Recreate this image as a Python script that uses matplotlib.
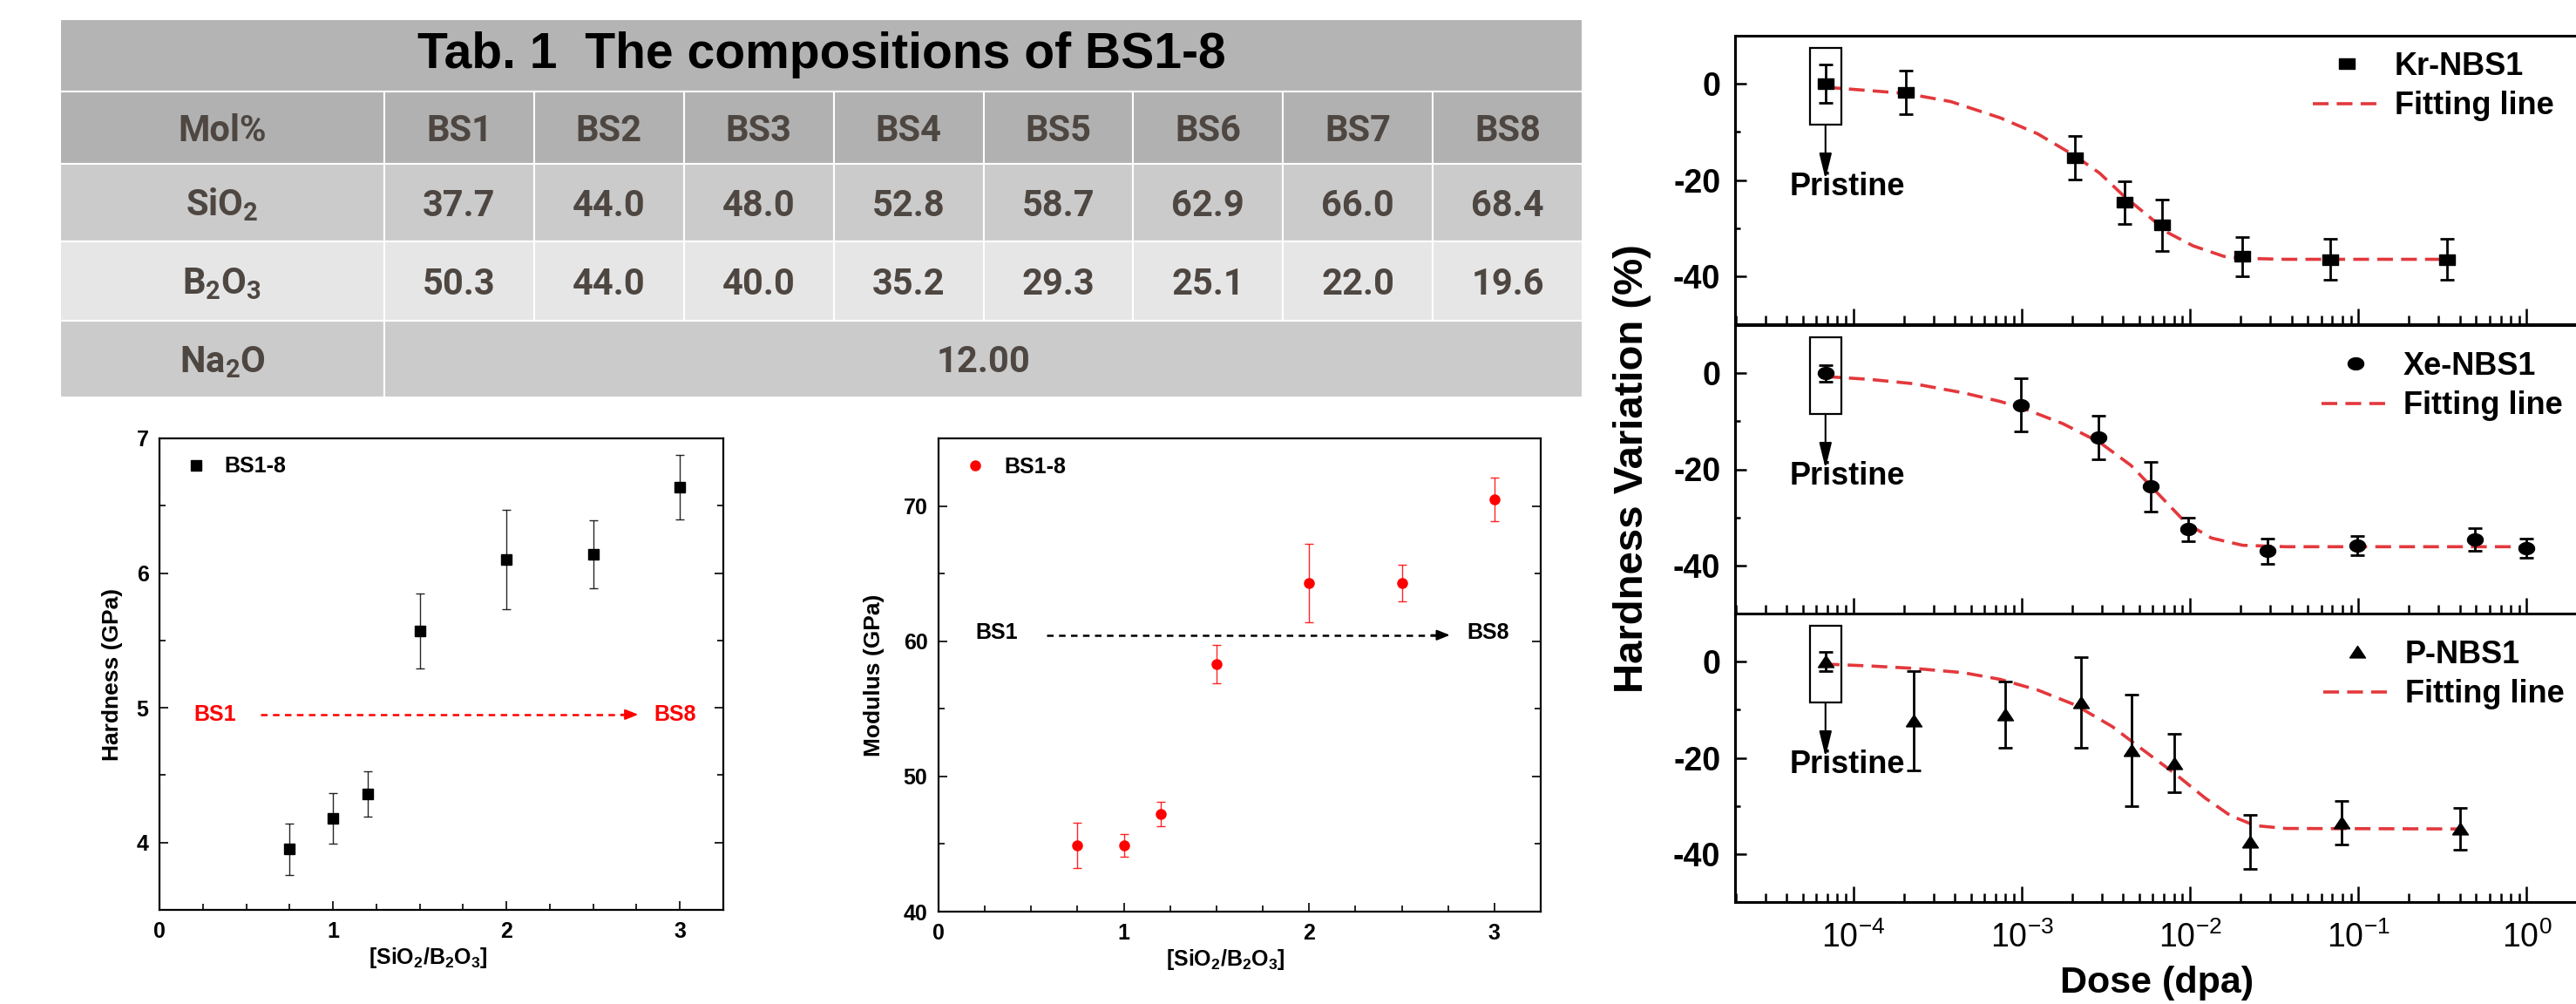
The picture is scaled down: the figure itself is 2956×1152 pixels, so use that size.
import numpy as np
import matplotlib
matplotlib.use('Agg')
import matplotlib.pyplot as plt
from matplotlib.patches import Rectangle
from matplotlib.ticker import MultipleLocator, LogLocator, NullFormatter

plt.rcParams['font.family'] = ['Liberation Sans', 'DejaVu Sans']
plt.rcParams['mathtext.default'] = 'regular'
plt.rcParams['axes.unicode_minus'] = False

# ---- table: compositions of BS1-8 (mol%)
samples = ['BS1', 'BS2', 'BS3', 'BS4', 'BS5', 'BS6', 'BS7', 'BS8']
sio2 = [37.7, 44.0, 48.0, 52.8, 58.7, 62.9, 66.0, 68.4]
b2o3 = [50.3, 44.0, 40.0, 35.2, 29.3, 25.1, 22.0, 19.6]
na2o = 12.00

# ---- hardness / modulus vs SiO2/B2O3
ratio = [0.75, 1.0, 1.2, 1.5, 2.0, 2.5, 3.0]
hardness = [3.95, 4.18, 4.36, 5.57, 6.10, 6.14, 6.64]
hardness_err = [0.19, 0.19, 0.17, 0.28, 0.37, 0.25, 0.24]
modulus = [44.9, 44.9, 47.2, 58.3, 64.3, 64.3, 70.5]
modulus_err = [1.7, 0.85, 0.9, 1.4, 2.9, 1.35, 1.6]

# ---- hardness variation vs dose
kr_dose = [6.8e-5, 2.04e-4, 2.07e-3, 4.08e-3, 6.8e-3, 2.05e-2, 6.8e-2, 0.337]
kr_var = [0.0, -1.8, -15.4, -24.7, -29.4, -35.9, -36.5, -36.5]
kr_err = [4.0, 4.5, 4.5, 4.5, 5.4, 4.1, 4.2, 4.3]
kr_fit_dose = [6.76e-5, 2.04e-4, 3.78e-4, 7.46e-4, 1.24e-3, 2.07e-3, 2.90e-3, 4.08e-3,
               5.73e-3, 7.40e-3, 1.04e-2, 1.59e-2, 2.05e-2, 3.71e-2, 0.337]
kr_fit = [-0.7, -2.0, -3.7, -7.1, -10.4, -15.0, -18.6, -23.5, -27.7, -31.0, -33.7,
          -35.9, -36.3, -36.5, -36.5]

xe_dose = [6.8e-5, 9.8e-4, 2.86e-3, 5.8e-3, 9.7e-3, 2.88e-2, 9.86e-2, 0.494, 0.99]
xe_var = [0.0, -6.6, -13.4, -23.6, -32.5, -37.0, -35.8, -34.6, -36.4]
xe_err = [1.7, 5.5, 4.5, 5.2, 2.4, 2.6, 2.0, 2.4, 2.0]
xe_fit_dose = [6.76e-5, 1.25e-4, 2.28e-4, 4.49e-4, 7.46e-4, 1.05e-3, 1.75e-3, 2.90e-3,
               4.45e-3, 6.79e-3, 9.53e-3, 1.34e-2, 2.05e-2, 3.71e-2, 0.99]
xe_fit = [-0.7, -1.3, -2.2, -4.1, -5.9, -7.5, -10.5, -14.4, -19.2, -25.9, -31.3,
          -34.3, -35.8, -36.1, -36.1]

p_dose = [6.8e-5, 2.27e-4, 8.0e-4, 2.25e-3, 4.5e-3, 8.05e-3, 2.28e-2, 7.98e-2, 0.40]
p_var = [0.0, -12.3, -11.1, -8.5, -18.4, -21.1, -37.5, -33.5, -34.8]
p_err = [2.0, 10.4, 6.9, 9.4, 11.6, 6.1, 5.7, 4.5, 4.4]
p_fit_dose = [6.64e-5, 1.25e-4, 2.28e-4, 4.49e-4, 7.46e-4, 1.24e-3, 2.07e-3, 3.44e-3,
              5.26e-3, 8.05e-3, 1.23e-2, 1.73e-2, 2.43e-2, 3.71e-2, 0.40]
p_fit = [-0.5, -0.9, -1.4, -2.3, -3.7, -5.9, -9.0, -13.5, -18.4, -23.2, -28.4,
         -32.0, -34.1, -34.7, -34.8]

W, H = 2956, 1152
fig = plt.figure(figsize=(W / 100, H / 100), dpi=100)


def box(x0, y0, x1, y1):
    # pixel box (top-left origin) -> figure fraction rect
    return [x0 / W, 1 - y1 / H, (x1 - x0) / W, (y1 - y0) / H]


# ================= table =================
tab = fig.add_axes([0, 0, 1, 1], zorder=0)
tab.set_xlim(0, W)
tab.set_ylim(H, 0)
tab.axis('off')

tx0, tx_first, tx1 = 69, 441, 1816
cw = (tx1 - tx_first) / len(samples)
rows = [22, 105, 188, 277, 368, 456]
row_colors = ['#b4b4b4', '#b1b1b1', '#cbcbcb', '#e6e6e6', '#cbcbcb']
tcol = '#4e4641'
tfont = dict(family=['Roboto', 'DejaVu Sans'], fontweight='bold', fontsize=30,
             color=tcol, ha='center', va='baseline')


def cell(xa, xb, r, txt=None):
    ya, yb = rows[r], rows[r + 1]
    tab.add_patch(Rectangle((xa, ya), xb - xa, yb - ya, facecolor=row_colors[r],
                            edgecolor='white', lw=1.5))
    if txt is not None:
        tab.text((xa + xb) / 2, (ya + yb) / 2 + 15, txt, **tfont)


tab.add_patch(Rectangle((tx0, rows[0]), tx1 - tx0, rows[1] - rows[0],
                        facecolor=row_colors[0], edgecolor='white', lw=1.5))
tab.text((tx0 + tx1) / 2, (rows[0] + rows[1]) / 2, 'Tab. 1  The compositions of BS1-8',
         ha='center', va='center', fontsize=41, fontweight='bold', color='black')

body = [('Mol%', samples),
        ('SiO$_2$', ['%.1f' % v for v in sio2]),
        ('B$_2$O$_3$', ['%.1f' % v for v in b2o3])]
for r, (lab, vals) in enumerate(body, start=1):
    cell(tx0, tx_first, r, lab)
    for j, v in enumerate(vals):
        cell(tx_first + j * cw, tx_first + (j + 1) * cw, r, v)
cell(tx0, tx_first, 4, 'Na$_2$O')
cell(tx_first, tx1, 4, '%.2f' % na2o)

# ================= hardness / modulus =================
red = '#ff0000'


def small_panel(rect, y, yerr, color, marker, ylim, ymaj, ymin, ylabel, ylab_x, arrow_col, arr_y, txt_y):
    ax = fig.add_axes(rect)
    ax.errorbar(ratio, y, yerr=yerr, fmt='none', ecolor=color, elinewidth=1,
                capsize=3.5, capthick=1, alpha=0.85)
    ax.plot(ratio, y, marker, color=color, ms=8, label='BS1-8', zorder=3)
    ax.set_xlim(0, 3.25)
    ax.set_ylim(*ylim)
    ax.xaxis.set_major_locator(MultipleLocator(1))
    ax.xaxis.set_minor_locator(MultipleLocator(0.25))
    ax.yaxis.set_major_locator(MultipleLocator(ymaj))
    ax.yaxis.set_minor_locator(MultipleLocator(ymin))
    ax.tick_params(which='both', direction='in', right=True, top=False, width=1.2)
    ax.tick_params(which='major', length=7, labelsize=18, pad=9)
    ax.tick_params(which='minor', length=5)
    for lab in ax.get_xticklabels() + ax.get_yticklabels():
        lab.set_fontweight('bold')
    for s in ax.spines.values():
        s.set_linewidth(1.6)
    ax.set_ylabel(ylabel, fontsize=19, fontweight='bold')
    ax.yaxis.set_label_coords(ylab_x, 0.5)
    ax.set_xlabel('[SiO$_2$/B$_2$O$_3$]', fontsize=18, fontweight='bold')
    ax.xaxis.set_label_coords(0.476, -0.075)
    ax.legend(loc='center left', bbox_to_anchor=(0.018, 0.94), frameon=False,
              handlelength=0.8, handletextpad=0.9, borderpad=0.3,
              prop=dict(size=18, weight='bold'))
    # BS1 -> BS8 arrow
    ax.text(0.2, txt_y, 'BS1', color=arrow_col, fontsize=18, fontweight='bold', va='center')
    ax.text(2.85, txt_y, 'BS8', color=arrow_col, fontsize=18, fontweight='bold', va='center')
    ax.plot([0.585, 2.70], [arr_y, arr_y], color=arrow_col, lw=1.8, ls=(0, (3, 2.5)))
    ax.annotate('', xy=(2.76, arr_y), xytext=(2.66, arr_y),
                arrowprops=dict(arrowstyle='-|>,head_length=0.5,head_width=0.2',
                                color=arrow_col, lw=1.5, mutation_scale=18,
                                shrinkA=0, shrinkB=0))
    return ax


small_panel(box(183, 503, 830, 1044), hardness, hardness_err, 'black', 's',
            (3.5, 7), 1, 0.5, 'Hardness (GPa)', -0.065, red, 4.95, 4.95)
small_panel(box(1077, 503, 1768, 1046), modulus, modulus_err, red, 'o',
            (40, 75), 10, 5, 'Modulus (GPa)', -0.09, 'black', 60.45, 60.6)

# ================= hardness variation vs dose =================
sq = [(-1.4, -1), (1.4, -1), (1.4, 1), (-1.4, 1), (-1.4, -1)]
tt = np.linspace(0, 2 * np.pi, 40)
ell = list(zip(1.3 * np.cos(tt), np.sin(tt)))
tri = [(-1.4, -1), (1.4, -1), (0, 1.1), (-1.4, -1)]
fit_col = '#e3383c'

panels = [
    ('Kr-NBS1', sq, kr_dose, kr_var, kr_err, kr_fit_dose, kr_fit, 41, 99, 2636),
    ('Xe-NBS1', ell, xe_dose, xe_var, xe_err, xe_fit_dose, xe_fit, 373, 443, 2646),
    ('P-NBS1', tri, p_dose, p_var, p_err, p_fit_dose, p_fit, 704, 774, 2648),
]
for i, (name, mk, dose, var, err, fdose, fval, top, leg_y, leg_x) in enumerate(panels):
    ax = fig.add_axes(box(1991, top, 2996, top + 331))
    ax.set_xscale('log')
    ax.set_xlim(10 ** -4.705, 10 ** 0.5)
    ax.set_ylim(-50, 10)
    ax.errorbar(dose, var, yerr=err, fmt='none', ecolor='black', elinewidth=2,
                capsize=6, capthick=2, zorder=3)
    ax.plot(dose, var, ls='none', marker=mk, ms=13, color='black', label=name, zorder=4)
    ax.plot(fdose, fval, color=fit_col, lw=2.6, ls=(0, (5, 2.6)), label='Fitting line', zorder=2)

    # pristine marker
    ax.add_patch(Rectangle((5.5e-5, -8.5), 8.45e-5 - 5.5e-5, 16.0, fill=False,
                           edgecolor='black', lw=1.6, zorder=5))
    ax.annotate('', xy=(6.8e-5, -19.8), xytext=(6.8e-5, -8.5),
                arrowprops=dict(arrowstyle='-|>,head_length=0.9,head_width=0.22',
                                color='black', lw=1.5, mutation_scale=20,
                                shrinkA=0, shrinkB=0))
    ax.text(9.2e-5, -18.3, 'Pristine', ha='center', va='top', fontsize=26, fontweight='bold')

    ax.xaxis.set_major_locator(LogLocator(base=10, numticks=12))
    ax.xaxis.set_minor_locator(LogLocator(base=10, subs=np.arange(2, 10), numticks=12))
    ax.xaxis.set_minor_formatter(NullFormatter())
    ax.yaxis.set_major_locator(MultipleLocator(20))
    ax.yaxis.set_minor_locator(MultipleLocator(10))
    ax.tick_params(which='both', direction='in', top=False, right=False, width=1.8)
    ax.tick_params(axis='x', which='major', length=13)
    ax.tick_params(axis='x', which='minor', length=7)
    ax.tick_params(axis='y', which='major', length=9)
    ax.tick_params(axis='y', which='minor', length=4)
    ax.tick_params(axis='y', labelsize=27, pad=12)
    ax.tick_params(axis='x', labelsize=27, pad=16, labelbottom=(i == 2))
    for lab in ax.get_yticklabels():
        lab.set_fontweight('bold')
    for s in ax.spines.values():
        s.set_linewidth(2.2)

    ax.legend(loc='center left', bbox_to_anchor=(leg_x / W, 1 - leg_y / H),
              bbox_transform=fig.transFigure, frameon=False, borderpad=0,
              handlelength=2.15, handletextpad=0.45, labelspacing=0.3,
              prop=dict(size=26, weight='bold'))

fig.text(1873 / W, 1 - 538 / H, 'Hardness Variation (%)', rotation=90, ha='center',
         va='center', fontsize=34, fontweight='bold')
fig.text(2475 / W, 1 - 1128 / H, 'Dose (dpa)', ha='center', va='center',
         fontsize=31, fontweight='bold')

fig.savefig('out.png', dpi=100)
